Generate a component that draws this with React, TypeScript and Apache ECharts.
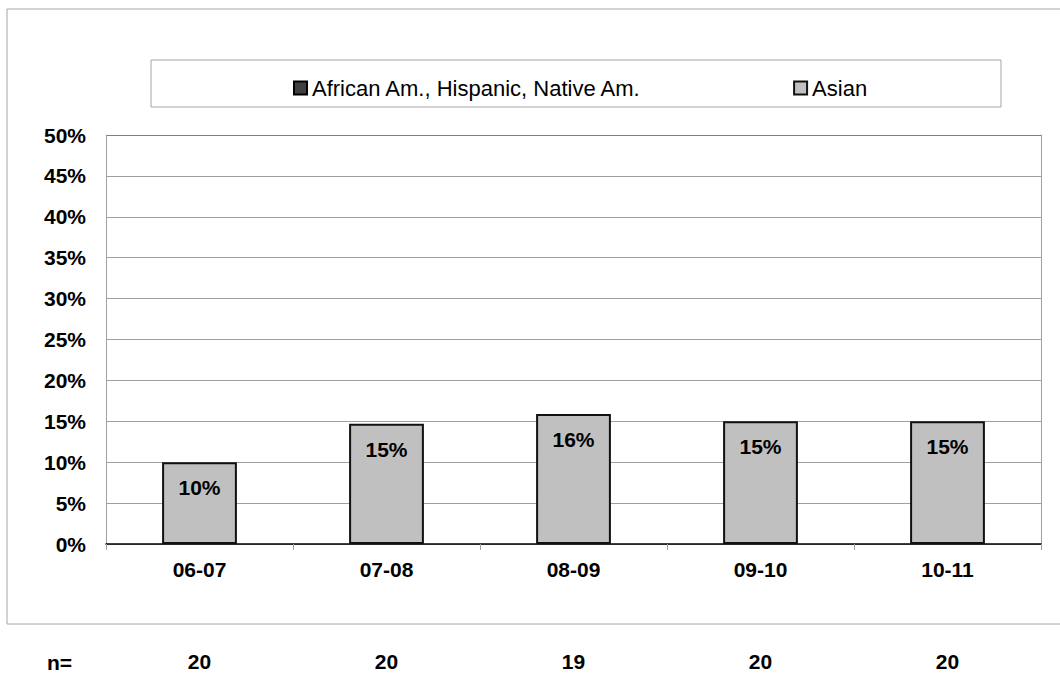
import React, { useEffect, useRef } from "react";
import * as echarts from "echarts";

const categories = ["06-07", "07-08", "08-09", "09-10", "10-11"];
const africanValues: (number | null)[] = [null, null, null, null, null];
const asianValues = [10, 14.7, 15.9, 15, 15];
const nValues = ["20", "20", "19", "20", "20"];
const seriesNames = ["African Am., Hispanic, Native Am.", "Asian"];

const FONT = "'Liberation Sans', Arial, sans-serif";

export default function App() {
  const ref = useRef<HTMLDivElement>(null);
  useEffect(() => {
    document.body.style.margin = "0";
    const chart = echarts.init(ref.current!, null, { renderer: "svg" });
    const gridColors = ["#a0a0a0", "#a0a0a0", "#a0a0a0", "#a0a0a0", "#a0a0a0", "#a0a0a0", "#a0a0a0", "#a0a0a0", "#a0a0a0", "#a0a0a0", "#808080"];
    chart.setOption({
      animation: false,
      backgroundColor: "#ffffff",
      textStyle: { fontFamily: FONT },
      grid: { left: 106, right: 19, top: 135, bottom: 131, containLabel: false },
      graphic: [
        {
          type: "rect",
          shape: { x: 7, y: 9, width: 1080, height: 615 },
          style: { fill: "none", stroke: "#a6a6a6", lineWidth: 1 },
          silent: true,
          z: -10,
        },
        {
          type: "rect",
          shape: { x: 151, y: 60, width: 850, height: 47 },
          style: { fill: "#ffffff", stroke: "#a6a6a6", lineWidth: 1 },
          silent: true,
          z: -5,
        },
        {
          type: "text",
          x: 47,
          y: 662,
          style: { text: "n=", font: `bold 21px ${FONT}`, fill: "#000", textVerticalAlign: "middle" },
        },
      ],
      legend: {
        data: seriesNames.map((name) => ({ name, icon: "rect" })),
        left: 288,
        top: 72,
        itemWidth: 13,
        itemHeight: 13,
        itemGap: 151,
        textStyle: { fontSize: 22, color: "#000", fontFamily: FONT },
      },
      xAxis: [
        {
          type: "category",
          data: categories,
          position: "bottom",
          axisLine: { show: true, lineStyle: { color: "#000", width: 1.5 } },
          axisTick: { show: true, length: 6, lineStyle: { color: "#a0a0a0" } },
          axisLabel: { fontSize: 21, fontWeight: "bold", color: "#000", margin: 15, fontFamily: FONT },
        },
        {
          type: "category",
          data: nValues,
          position: "bottom",
          offset: 92,
          axisLine: { show: false },
          axisTick: { show: false },
          axisLabel: { fontSize: 21, fontWeight: "bold", color: "#000", margin: 15, fontFamily: FONT },
        },
      ],
      yAxis: [
        {
          type: "value",
          min: 0,
          max: 50,
          interval: 5,
          axisLine: { show: true, lineStyle: { color: "#a0a0a0" } },
          axisTick: { show: false },
          axisLabel: { formatter: "{value}%", fontSize: 21, fontWeight: "bold", color: "#000", margin: 20, fontFamily: FONT },
          splitLine: { show: true, lineStyle: { color: gridColors, width: 1 } },
        },
        {
          type: "value",
          min: 0,
          max: 50,
          interval: 5,
          position: "right",
          axisLine: { show: true, lineStyle: { color: "#a0a0a0" } },
          axisTick: { show: false },
          axisLabel: { show: false },
          splitLine: { show: false },
        },
      ],
      series: [
        {
          name: seriesNames[0],
          type: "bar",
          stack: "total",
          data: africanValues,
          barCategoryGap: "60%",
          itemStyle: { color: "#404040", borderColor: "#000", borderWidth: 2 },
        },
        {
          name: seriesNames[1],
          type: "bar",
          stack: "total",
          data: asianValues,
          barCategoryGap: "60%",
          itemStyle: { color: "#c0c0c0", borderColor: "#111", borderWidth: 2 },
          label: {
            show: true,
            position: "insideTop",
            distance: 15,
            formatter: (p: any) => `${Math.round(p.value)}%`,
            fontSize: 21,
            fontWeight: "bold",
            color: "#000",
            fontFamily: FONT,
          },
        },
      ],
    });
    return () => chart.dispose();
  }, []);
  return <div ref={ref} style={{ width: 1060, height: 675 }} />;
}
